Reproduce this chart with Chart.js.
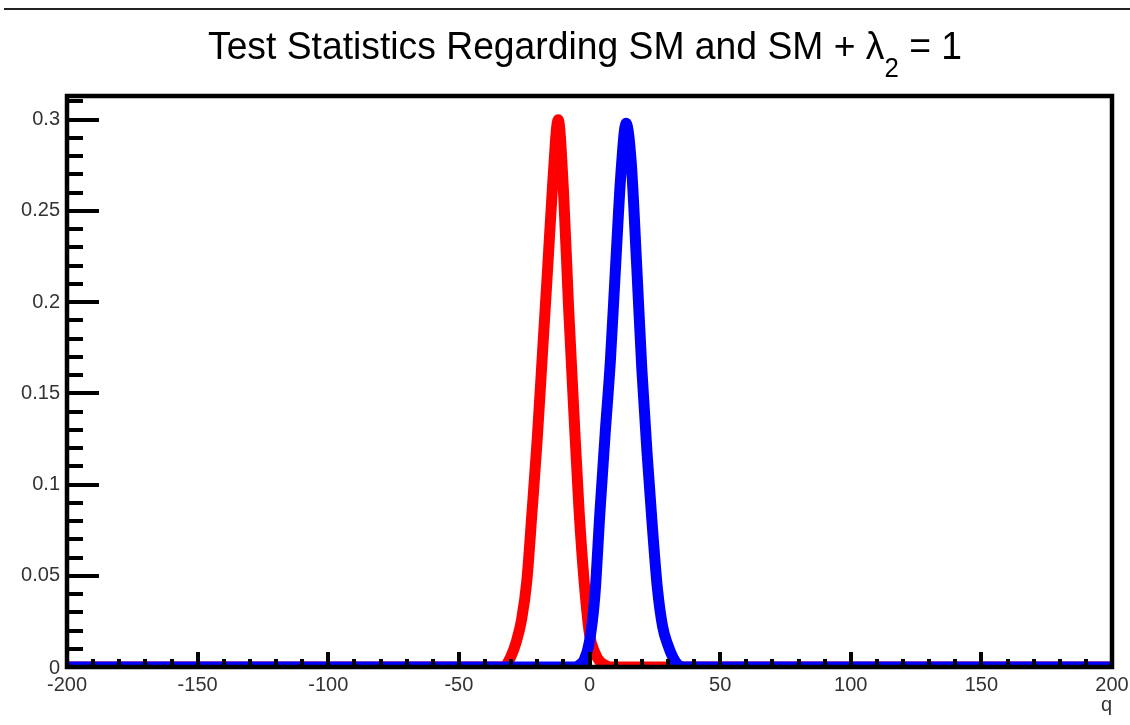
<!DOCTYPE html>
<html>
<head>
<meta charset="utf-8">
<script src="https://cdn.jsdelivr.net/npm/chart.js@4.4.1/dist/chart.umd.min.js"></script>
<style>
html, body { margin: 0; padding: 0; background: #fff; }
#wrap { width: 1130px; height: 725px; position: relative; }
</style>
</head>
<body>
<div id="wrap"><canvas id="chart" width="1130" height="725"></canvas></div>
<script>
// title pieces (the "2" is a subscript on lambda)
const titleMain = 'Test Statistics Regarding SM and SM + λ';
const titleSub = '2';
const titleTail = ' = 1';
const xAxisTitle = 'q';

const xTickLabels = [-200, -150, -100, -50, 0, 50, 100, 150, 200];
const yTickLabels = [0, 0.05, 0.1, 0.15, 0.2, 0.25, 0.3];

// SM (red)
const smQ = [-200, -34, -32, -30, -28, -26, -24, -22, -20, -18, -16, -14, -12, -10, -8, -6, -4, -2, 0, 2, 4, 6, 8, 200];
const smValues = [0, 0, 0.001, 0.006, 0.014, 0.026, 0.047, 0.085, 0.125, 0.172, 0.219, 0.267, 0.300, 0.262, 0.197, 0.140, 0.086, 0.046, 0.018, 0.008, 0.003, 0.001, 0, 0];

// SM + lambda2 = 1 (blue)
const bsmQ = [-200, -6, -4, -2, 0, 2, 4, 6, 8, 10, 12, 14, 16, 18, 20, 22, 24, 26, 28, 30, 32, 34, 36, 200];
const bsmValues = [0, 0, 0.001, 0.004, 0.014, 0.038, 0.085, 0.128, 0.168, 0.220, 0.270, 0.298, 0.276, 0.222, 0.164, 0.118, 0.078, 0.043, 0.022, 0.012, 0.005, 0.001, 0, 0];

const xMin = -200, xMax = 200;
const yMin = 0, yMax = 0.313;

const toPoints = (qs, vs) => qs.map((q, i) => ({ x: q, y: vs[i] }));

const frameAndLabels = {
    id: 'frameAndLabels',
    afterDraw(chart) {
        const { ctx, chartArea: a, scales } = chart;
        const xs = scales.x, ys = scales.y;
        ctx.save();

        // thin rule at the very top
        ctx.strokeStyle = '#222';
        ctx.lineWidth = 2;
        ctx.beginPath();
        ctx.moveTo(4, 9);
        ctx.lineTo(1130, 9);
        ctx.stroke();

        // frame
        ctx.strokeStyle = '#000';
        ctx.lineWidth = 4.5;
        ctx.strokeRect(a.left, a.top, a.right - a.left, a.bottom - a.top);

        // y ticks, minor every 0.01
        ctx.lineWidth = 4;
        for (let k = 1; k <= 31; k++) {
            const v = k / 100;
            const py = Math.round(ys.getPixelForValue(v));
            const len = k % 5 === 0 ? 32 : 16;
            ctx.beginPath();
            ctx.moveTo(a.left, py);
            ctx.lineTo(a.left + len, py);
            ctx.stroke();
        }
        // x ticks, minor every 10
        for (let q = xMin + 10; q < xMax; q += 10) {
            const px = Math.round(xs.getPixelForValue(q));
            const len = q % 50 === 0 ? 15 : 8;
            ctx.beginPath();
            ctx.moveTo(px, a.bottom);
            ctx.lineTo(px, a.bottom - len);
            ctx.stroke();
        }

        // tick labels
        ctx.fillStyle = '#333';
        ctx.font = '20px "Liberation Sans", Arial, sans-serif';
        ctx.textAlign = 'right';
        ctx.textBaseline = 'middle';
        yTickLabels.forEach(v => {
            ctx.fillText(String(v), a.left - 7, ys.getPixelForValue(v) + (v === 0 ? 1 : 0));
        });
        ctx.textAlign = 'center';
        ctx.textBaseline = 'top';
        xTickLabels.forEach(q => {
            ctx.fillText(String(q), xs.getPixelForValue(q), a.bottom + 8);
        });
        ctx.textAlign = 'right';
        ctx.textBaseline = 'alphabetic';
        ctx.fillText(xAxisTitle, a.right, 711);

        // title with subscript, squeezed horizontally
        ctx.fillStyle = '#000';
        const big = '39px "Liberation Sans", Arial, sans-serif';
        const small = '27px "Liberation Sans", Arial, sans-serif';
        ctx.font = big;
        const w1 = ctx.measureText(titleMain).width;
        const w3 = ctx.measureText(titleTail).width;
        ctx.font = small;
        const w2 = ctx.measureText(titleSub).width;
        const total = w1 + w2 + w3;
        const target = 754;
        const sx = target / total;
        ctx.translate(208, 0);
        ctx.scale(sx, 1);
        ctx.textAlign = 'left';
        ctx.textBaseline = 'alphabetic';
        ctx.font = big;
        ctx.fillText(titleMain, 0, 59);
        ctx.font = small;
        ctx.fillText(titleSub, w1, 77);
        ctx.font = big;
        ctx.fillText(titleTail, w1 + w2, 59);

        ctx.restore();
    },
};

new Chart(document.getElementById('chart'), {
    type: 'line',
    data: {
        datasets: [
            {
                label: 'SM + λ2 = 1',
                data: toPoints(bsmQ, bsmValues),
                borderColor: '#0000ff',
                borderWidth: 11,
                pointRadius: 0,
                cubicInterpolationMode: 'monotone',
                fill: false,
            },
            {
                label: 'SM',
                data: toPoints(smQ, smValues),
                borderColor: '#ff0000',
                borderWidth: 11,
                pointRadius: 0,
                cubicInterpolationMode: 'monotone',
                fill: false,
            },
        ],
    },
    options: {
        responsive: false,
        animation: false,
        layout: {
            padding: { left: 67, top: 96, right: 18, bottom: 58 },
        },
        scales: {
            x: { type: 'linear', min: xMin, max: xMax, display: false },
            y: { type: 'linear', min: yMin, max: yMax, display: false },
        },
        plugins: {
            legend: { display: false },
            tooltip: { enabled: false },
        },
    },
    plugins: [frameAndLabels],
});
</script>
</body>
</html>
